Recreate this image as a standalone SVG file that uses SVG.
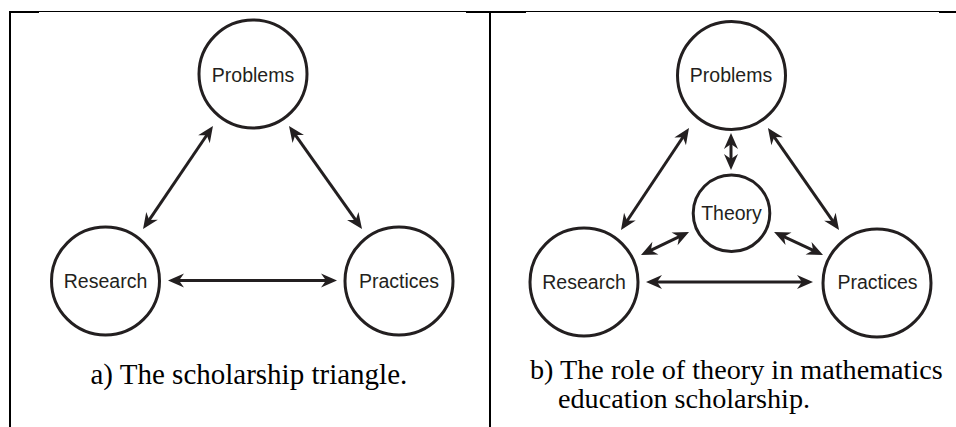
<svg xmlns="http://www.w3.org/2000/svg" width="956" height="427" viewBox="0 0 956 427">
  <style>
    .node circle { fill: #ffffff; stroke: #231f20; stroke-width: 3; }
    .node text { font-family: "Liberation Sans", Arial, sans-serif; font-size: 19.5px; fill: #231f20; text-anchor: middle; }
    .conn line { stroke: #231f20; stroke-width: 3; marker-start: url(#head); marker-end: url(#head); }
    .caption { font-family: "Liberation Serif", "Times New Roman", serif; fill: #000000; }
    .rule { fill: #000000; }
  </style>
  <defs>
    <!-- barbed arrowhead; tip sits 9px beyond the line end -->
    <marker id="head" viewBox="-17 -8 18 16" refX="-9" refY="0" markerWidth="18" markerHeight="16" markerUnits="userSpaceOnUse" orient="auto-start-reverse">
      <path d="M0,0 L-16,-7 L-11,0 L-16,7 Z" fill="#231f20"/>
    </marker>
  </defs>

  <!-- table rules -->
  <g id="table">
    <rect class="rule" x="9" y="11" width="2" height="416"/>
    <rect class="rule" x="9" y="11" width="30" height="2"/>
    <rect class="rule" x="39" y="11" width="427" height="1"/>
    <rect class="rule" x="466" y="11" width="60" height="2"/>
    <rect class="rule" x="489" y="11" width="2" height="416"/>
    <rect class="rule" x="526" y="11" width="413" height="1"/>
    <rect class="rule" x="939" y="11" width="17" height="2"/>
  </g>

  <!-- panel a: connectors -->
  <g id="connectors-a" class="conn">
    <line x1="207.9" y1="133.5" x2="148.1" y2="221.6"/>
    <line x1="294.2" y1="133.3" x2="356.8" y2="221.7"/>
    <line x1="177" y1="280.5" x2="328" y2="280.5"/>
  </g>

  <!-- panel a: nodes -->
  <g id="a-problems" class="node">
    <circle cx="253" cy="74" r="54"/>
    <text x="253" y="81.5">Problems</text>
  </g>
  <g id="a-research" class="node">
    <circle cx="105.5" cy="281" r="54"/>
    <text x="105.5" y="287.5">Research</text>
  </g>
  <g id="a-practices" class="node">
    <circle cx="399" cy="281" r="54"/>
    <text x="399" y="287.5">Practices</text>
  </g>

  <text id="caption-a" class="caption" x="90.5" y="384" font-size="29">a) The scholarship triangle.</text>

  <!-- panel b: connectors -->
  <g id="connectors-b" class="conn">
    <line x1="684" y1="135.5" x2="626" y2="222.5"/>
    <line x1="773.1" y1="135.4" x2="833.9" y2="222.6"/>
    <line x1="731" y1="142" x2="731" y2="161"/>
    <line x1="649.1" y1="251.1" x2="680.9" y2="235.9"/>
    <line x1="782.2" y1="235.8" x2="814.9" y2="251.2"/>
    <line x1="655" y1="282" x2="804" y2="282"/>
  </g>

  <!-- panel b: nodes -->
  <g id="b-problems" class="node">
    <circle cx="731.5" cy="75.5" r="54"/>
    <text x="731" y="82">Problems</text>
  </g>
  <g id="b-theory" class="node">
    <circle cx="731.5" cy="213.3" r="38.3"/>
    <text x="731.5" y="220">Theory</text>
  </g>
  <g id="b-research" class="node">
    <circle cx="584" cy="282" r="54"/>
    <text x="584" y="288.5">Research</text>
  </g>
  <g id="b-practices" class="node">
    <circle cx="877" cy="283" r="54"/>
    <text x="877.5" y="289">Practices</text>
  </g>

  <text id="caption-b" class="caption" font-size="28.2">
    <tspan x="530" y="379">b) The role of theory in mathematics</tspan>
    <tspan x="558" y="408">education scholarship.</tspan>
  </text>
</svg>
